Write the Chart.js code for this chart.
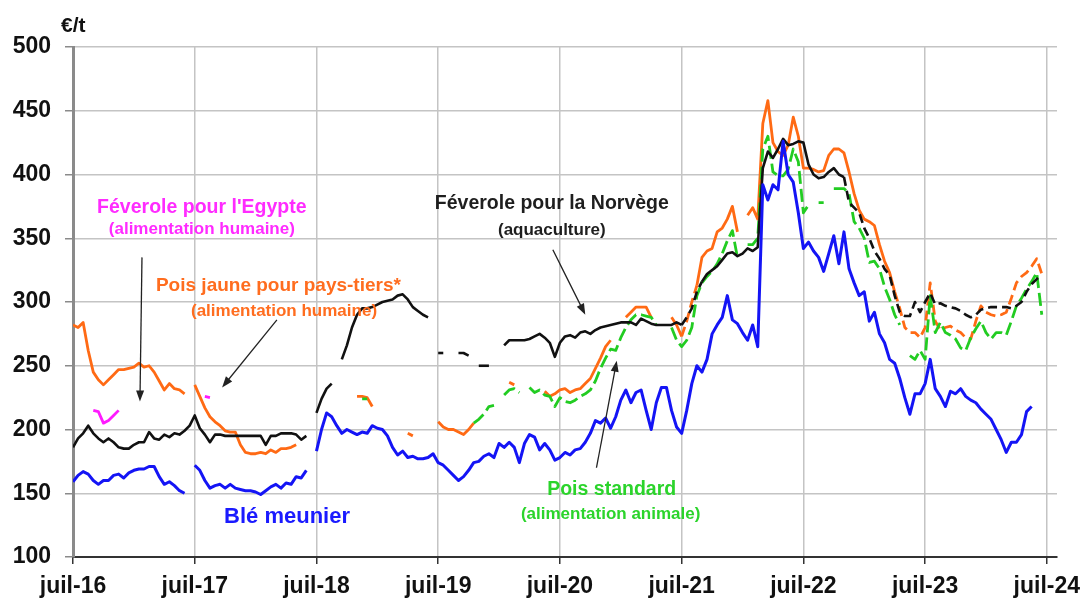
<!DOCTYPE html>
<html>
<head>
<meta charset="utf-8">
<script src="https://cdn.jsdelivr.net/npm/chart.js@4.4.1/dist/chart.umd.min.js"></script>
<style>
  html, body { margin: 0; padding: 0; background: #fff; }
  #canvas { display: block; }
</style>
</head>
<body>
<canvas id="canvas" width="1084" height="601"></canvas>
<script>
// one value every half month, starting juillet 2016 (x = months since juil-16)
const STEP = 0.5;

const tickMonths = [0, 12, 24, 36, 48, 60, 72, 84, 96];
const tickLabels = ['juil-16', 'juil-17', 'juil-18', 'juil-19', 'juil-20', 'juil-21', 'juil-22', 'juil-23', 'juil-24'];

// Blé meunier
const ble = [
    159,164,167,165,160,157,160,160,164,165,162,166,168,169,169,171,171,163,157,159,156,152,150,null,
    172,168,160,154,156,157,154,157,154,153,152,152,151,149,152,155,157,154,158,157,163,162,168,null,
    183,200,213,210,203,197,200,198,196,198,197,203,201,200,195,186,180,183,178,179,177,177,178,181,
    174,172,168,164,160,163,168,174,175,179,181,178,189,186,190,186,174,189,196,194,184,189,184,176,
    178,182,180,184,185,190,197,207,205,209,201,210,223,231,221,229,231,215,200,221,233,233,215,202,
    197,215,236,250,245,255,275,282,288,305,286,283,276,270,282,265,392,380,392,388,426,400,394,370,
    342,347,340,335,324,338,352,330,355,326,315,305,308,285,292,275,268,255,252,240,225,212,228,228,
    236,255,232,226,218,230,228,232,226,223,221,216,212,208,200,192,182,190,190,196,214,218,null,null
];

// Féverole pour la Norvège
const feveroleNorvege = [
    186,193,197,203,197,193,190,193,190,186,185,185,188,190,190,198,193,192,196,194,197,196,199,203,
    211,201,196,190,196,196,195,195,195,195,195,195,195,195,188,195,195,197,197,197,196,192,195,null,
    213,224,232,236,null,255,266,280,290,295,295,296,298,300,301,302,305,306,302,296,293,290,288,null,
    260,260,null,null,260,260,258,null,250,250,250,null,null,266,270,270,270,270,271,273,275,272,268,257,
    268,273,274,272,276,277,275,278,280,281,282,283,284,284,284,282,287,285,283,282,282,282,282,284,
    282,288,295,308,316,322,325,328,333,338,339,336,338,342,340,343,405,418,413,420,428,423,424,426,
    425,408,400,397,398,402,405,400,398,378,374,370,358,350,340,334,326,321,305,292,289,289,300,292,
    300,307,298,299,297,296,295,293,290,288,290,294,295,296,296,296,296,295,297,300,308,314,318,321
];

// Pois jaune pour pays-tiers
const poisJaune = [
    282,280,284,262,245,239,235,239,243,247,247,248,249,252,249,250,245,238,231,236,232,231,228,null,
    235,226,217,210,206,203,199,198,198,188,182,181,181,182,181,184,182,185,185,186,188,null,null,null,
    null,null,null,null,null,null,null,null,226,226,225,218,null,null,null,null,null,null,197,195,null,null,null,null,
    206,202,200,200,198,196,200,205,null,null,null,null,null,null,237,235,null,null,null,null,null,230,226,228,
    231,232,229,231,232,236,240,248,256,265,270,null,null,288,292,296,296,296,288,null,null,null,288,282,
    273,285,300,313,335,340,342,355,358,365,375,355,null,368,374,365,440,458,425,418,415,423,445,430,
    405,405,404,402,403,415,420,420,417,402,385,372,365,363,360,345,332,323,308,295,280,276,276,272,
    280,315,285,278,280,281,278,276,272,271,285,297,292,290,289,290,292,303,315,320,323,328,334,322
];

// Pois standard
const poisStandard = [
    null,null,null,null,null,null,null,null,null,null,null,null,null,null,null,null,null,null,null,null,null,null,null,null,
    null,null,null,null,null,null,null,null,null,null,null,null,null,null,null,null,null,null,null,null,null,null,null,null,
    null,null,null,null,null,null,null,null,null,224,224,null,null,null,null,null,null,null,null,null,null,null,null,null,
    null,null,null,null,null,null,null,205,208,212,218,219,null,227,231,232,229,null,233,229,231,227,226,218,
    225,222,221,223,226,228,231,238,248,256,263,262,272,280,286,290,290,289,288,282,null,null,280,270,
    265,270,280,305,315,320,324,330,338,348,356,335,null,345,345,350,420,430,402,399,399,404,420,410,
    370,376,null,378,378,null,389,389,389,385,363,358,350,331,332,326,312,302,290,282,null,258,255,262,
    255,305,276,284,276,274,271,264,262,272,279,285,276,271,276,276,274,285,297,303,310,316,323,290
];

// Féverole pour l'Egypte
const feveroleEgypte = [
    null,null,null,null,215,214,205,207,211,215,null,null,null,null,null,null,null,null,null,null,null,null,null,null,
    null,null,226,225
];

const FONT = "'Liberation Sans', Arial, sans-serif";

function toPoints(values) {
    return values.map((v, i) => ({ x: i * STEP, y: v }));
}

// labels and arrows, placed in data units (months, €/t)
const notes = [
    { text: "Féverole pour l'Egypte", x: 12.7, y: 374, color: '#ff2bff', size: 19.5 },
    { text: '(alimentation humaine)', x: 12.7, y: 357, color: '#ff2bff', size: 17 },
    { text: 'Pois jaune pour pays-tiers*', x: 20.25, y: 313, color: '#ff6d1f', size: 19 },
    { text: '(alimentation humaine)', x: 20.8, y: 293, color: '#ff6d1f', size: 17 },
    { text: 'Féverole pour la Norvège', x: 47.2, y: 377, color: '#1e1e1e', size: 19.5 },
    { text: '(aquaculture)', x: 47.2, y: 356.5, color: '#1e1e1e', size: 17 },
    { text: 'Pois standard', x: 53.1, y: 152.5, color: '#2bd42b', size: 19.5 },
    { text: '(alimentation animale)', x: 53.0, y: 133.7, color: '#2bd42b', size: 17 },
    { text: 'Blé meunier', x: 21.1, y: 131.4, color: '#1a1aff', size: 22 }
];
const arrows = [
    [6.8, 335, 6.6, 222],
    [20.1, 286, 14.7, 233],
    [47.3, 341, 50.5, 290],
    [51.6, 170, 53.6, 254]
];

const notesPlugin = {
    id: 'notes',
    afterDatasetsDraw(chart) {
        const c = chart.ctx;
        const xs = chart.scales.x, ys = chart.scales.y;
        c.save();
        c.strokeStyle = '#222';
        c.fillStyle = '#222';
        c.lineWidth = 1.3;
        arrows.forEach(a => {
            const x0 = xs.getPixelForValue(a[0]), y0 = ys.getPixelForValue(a[1]);
            const x1 = xs.getPixelForValue(a[2]), y1 = ys.getPixelForValue(a[3]);
            const ang = Math.atan2(y1 - y0, x1 - x0);
            const cs = Math.cos(ang), sn = Math.sin(ang);
            c.beginPath();
            c.moveTo(x0, y0);
            c.lineTo(x1 - 6 * cs, y1 - 6 * sn);
            c.stroke();
            c.beginPath();
            c.moveTo(x1, y1);
            c.lineTo(x1 - 11 * cs + 4 * sn, y1 - 11 * sn - 4 * cs);
            c.lineTo(x1 - 11 * cs - 4 * sn, y1 - 11 * sn + 4 * cs);
            c.closePath();
            c.fill();
        });
        c.textAlign = 'center';
        c.textBaseline = 'middle';
        notes.forEach(n => {
            c.font = 'bold ' + n.size + 'px ' + FONT;
            c.fillStyle = n.color;
            c.fillText(n.text, xs.getPixelForValue(n.x), ys.getPixelForValue(n.y));
        });
        // unit above the y axis
        c.font = 'bold 21px ' + FONT;
        c.fillStyle = '#111';
        c.textAlign = 'left';
        c.fillText('€/t', chart.chartArea.left - 12, chart.chartArea.top - 21);
        c.restore();
    }
};

const blackDashed = x => (x >= 60 && x < 62) || x >= 76;
const orangeDashed = x => (x >= 60 && x < 61.5) || x >= 81;

const ctx = document.getElementById('canvas').getContext('2d');
const chart = new Chart(ctx, {
    type: 'line',
    data: {
        datasets: [{
            label: 'Blé meunier',
            data: toPoints(ble),
            borderColor: '#1414f5',
            borderWidth: 3
        }, {
            label: 'Féverole pour la Norvège',
            data: toPoints(feveroleNorvege),
            borderColor: '#111',
            borderWidth: 2.6,
            segment: {
                borderDash: s => blackDashed(s.p0.parsed.x) ? [9, 5] : undefined
            }
        }, {
            label: 'Pois standard',
            data: toPoints(poisStandard),
            borderColor: '#22cc22',
            borderWidth: 2.8,
            borderDash: [13, 5]
        }, {
            label: 'Pois jaune pour pays-tiers',
            data: toPoints(poisJaune),
            borderColor: '#ff6a14',
            borderWidth: 2.8,
            segment: {
                borderDash: s => orangeDashed(s.p0.parsed.x) ? [10, 5] : undefined
            }
        }, {
            label: "Féverole pour l'Egypte",
            data: toPoints(feveroleEgypte),
            borderColor: '#ff1aff',
            borderWidth: 2.8
        }]
    },
    options: {
        responsive: false,
        animation: false,
        spanGaps: false,
        layout: { padding: { top: 47, right: 27, left: 0, bottom: 0 } },
        elements: {
            point: { radius: 0 },
            line: { tension: 0, borderJoinStyle: 'round', borderCapStyle: 'butt' }
        },
        plugins: {
            legend: { display: false },
            tooltip: { enabled: false }
        },
        scales: {
            x: {
                type: 'linear',
                min: 0,
                max: 97,
                afterBuildTicks: s => { s.ticks = tickMonths.map(v => ({ value: v })); },
                afterFit: s => { s.height = 44; s.paddingLeft = 0; s.paddingRight = 0; },
                ticks: {
                    autoSkip: false,
                    maxRotation: 0,
                    padding: 9,
                    color: '#111',
                    font: { family: FONT, size: 23, weight: 'bold' },
                    callback: (v, i) => tickLabels[i]
                },
                grid: { color: '#c4c4c4', lineWidth: 1.5, tickLength: 7, tickColor: '#333' },
                border: { color: '#333', width: 2 }
            },
            y: {
                min: 100,
                max: 500,
                afterFit: s => { s.width = 73; s.paddingTop = 0; s.paddingBottom = 0; },
                ticks: {
                    stepSize: 50,
                    padding: 14,
                    color: '#111',
                    font: { family: FONT, size: 23, weight: 'bold' }
                },
                grid: { color: '#c4c4c4', lineWidth: 1.5, tickLength: 8, tickColor: '#8a8a8a' },
                border: { color: '#8a8a8a', width: 3 }
            }
        }
    },
    plugins: [notesPlugin]
});
</script>
</body>
</html>
